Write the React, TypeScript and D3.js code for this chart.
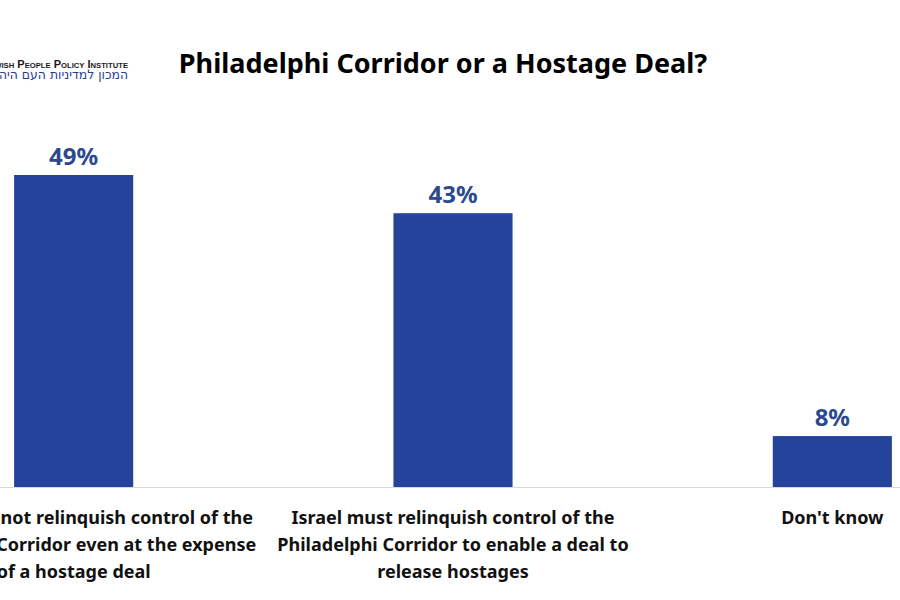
import { useEffect, useRef } from "react";
import * as d3 from "d3";

// ── Data ──────────────────────────────────────────────────────────────────────
const categories = [
  "Israel must not relinquish control of the|Philadelphi Corridor even at the expense|of a hostage deal",
  "Israel must relinquish control of the|Philadelphi Corridor to enable a deal to|release hostages",
  "Don't know",
];
const values = [49, 43, 8];
const valueLabels = ["49%", "43%", "8%"];

const title = "Philadelphi Corridor or a Hostage Deal?";
const logoEn = "Jewish People Policy Institute";
const logoHe = "המכון למדיניות העם היהודי";

const BLUE = "#23449a";
const LABEL_BLUE = "#2b4a8e";
const FONT = "'Noto Sans', 'Open Sans', sans-serif";

export default function App() {
  const svgRef = useRef<SVGSVGElement>(null);

  useEffect(() => {
    if (!svgRef.current) return;
    const width = 900;
    const height = 600;
    const baseline = 487;

    const svg = d3.select(svgRef.current);
    svg.selectAll("*").remove();

    svg.append("rect").attr("width", width).attr("height", height).attr("fill", "#ffffff");

    // ── Scales ────────────────────────────────────────────────────────────────
    const x = d3
      .scaleBand<string>()
      .domain(categories)
      .range([-116, 1022])
      .paddingInner(0.686)
      .paddingOuter(0.343);

    const y = d3.scaleLinear().domain([0, 49]).range([baseline, 175]);

    // ── Baseline ──────────────────────────────────────────────────────────────
    svg
      .append("line")
      .attr("x1", 0)
      .attr("x2", width)
      .attr("y1", baseline + 0.5)
      .attr("y2", baseline + 0.5)
      .attr("stroke", "#d9d9d9")
      .attr("stroke-width", 1);

    // ── Bars ──────────────────────────────────────────────────────────────────
    svg
      .append("g")
      .selectAll("rect")
      .data(values)
      .enter()
      .append("rect")
      .attr("x", (_, i) => x(categories[i]) as number)
      .attr("width", x.bandwidth())
      .attr("y", (d) => y(d))
      .attr("height", (d) => y(0) - y(d))
      .attr("fill", BLUE);

    // ── Value labels ──────────────────────────────────────────────────────────
    svg
      .append("g")
      .selectAll("text")
      .data(values)
      .enter()
      .append("text")
      .attr("x", (_, i) => (x(categories[i]) as number) + x.bandwidth() / 2)
      .attr("y", (d) => y(d) - 10)
      .attr("text-anchor", "middle")
      .attr("font-family", FONT)
      .attr("font-weight", 700)
      .attr("font-size", 24)
      .attr("fill", LABEL_BLUE)
      .text((_, i) => valueLabels[i]);

    // ── Category labels (the left one runs off the edge, as in the source) ────
    const catG = svg.append("g");
    categories.forEach((c) => {
      const cx = (x(c) as number) + x.bandwidth() / 2;
      const t = catG
        .append("text")
        .attr("text-anchor", "middle")
        .attr("font-family", FONT)
        .attr("font-weight", 700)
        .attr("font-size", 18)
        .attr("fill", "#111111");
      c.split("|").forEach((line, j) => {
        t.append("tspan").attr("x", cx).attr("y", 524 + j * 27).text(line);
      });
    });

    // ── Title ─────────────────────────────────────────────────────────────────
    svg
      .append("text")
      .attr("x", 443)
      .attr("y", 73)
      .attr("text-anchor", "middle")
      .attr("font-family", FONT)
      .attr("font-weight", 700)
      .attr("font-size", 27)
      .attr("fill", "#000000")
      .text(title);

    // ── Logo (cropped at the left edge) ───────────────────────────────────────
    svg
      .append("text")
      .attr("x", -17)
      .attr("y", 68)
      .attr("textLength", 145)
      .attr("lengthAdjust", "spacingAndGlyphs")
      .attr("font-family", "'Liberation Sans Narrow', 'Liberation Sans', sans-serif")
      .attr("font-variant", "small-caps")
      .attr("font-weight", 700)
      .attr("font-size", 11.5)
      .attr("fill", "#1a1a1a")
      .text(logoEn);

    svg
      .append("text")
      .attr("x", -14)
      .attr("y", 79)
      .attr("textLength", 142)
      .attr("lengthAdjust", "spacingAndGlyphs")
      .attr("font-family", "'DejaVu Sans Condensed', 'DejaVu Sans', sans-serif")
      .attr("font-size", 13)
      .attr("fill", "#1f3f8f")
      .text(logoHe);
  }, []);

  return (
    <div style={{ position: "absolute", left: 0, top: 0, width: 900, height: 600 }}>
      <svg ref={svgRef} width={900} height={600} viewBox="0 0 900 600" style={{ display: "block" }} />
    </div>
  );
}
